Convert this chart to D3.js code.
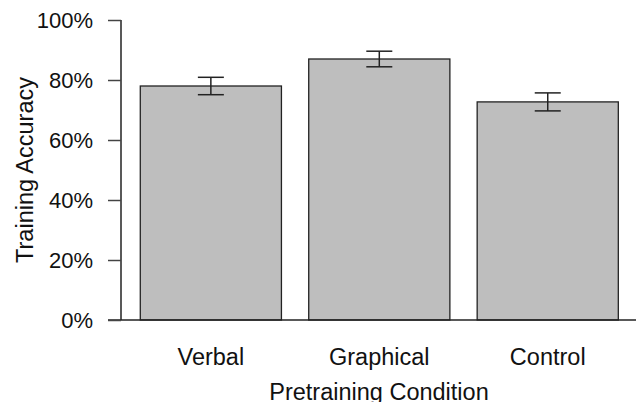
<!DOCTYPE html>
<html>
<head>
<meta charset="utf-8">
<script src="https://cdn.jsdelivr.net/npm/d3@7"></script>
<style>
  body { margin: 0; background: #fff; }
  svg { display: block; font-family: "Liberation Sans", Arial, sans-serif; }
</style>
</head>
<body>
<div id="chart"></div>
<script>
// values
const categories = ['Verbal', 'Graphical', 'Control'];
const means = [0.78, 0.87, 0.727];
const errors = [0.029, 0.026, 0.03];
const yTicks = [0, 0.2, 0.4, 0.6, 0.8, 1.0];

const width = 636;
const height = 402;

const svg = d3.select('#chart')
  .append('svg')
  .attr('width', width)
  .attr('height', height);

const y = d3.scaleLinear().domain([0, 1]).range([320, 20]);
const x = d3.scaleBand()
  .domain(categories)
  .range([113, 645.6])
  .paddingInner(0.162)
  .paddingOuter(0.162);

// bars
svg.selectAll('.bar')
  .data(categories)
  .enter()
  .append('rect')
  .attr('class', 'bar')
  .attr('x', d => x(d))
  .attr('y', (d, i) => y(means[i]))
  .attr('width', x.bandwidth())
  .attr('height', (d, i) => y(0) - y(means[i]))
  .attr('fill', '#bebebe')
  .attr('stroke', '#222')
  .attr('stroke-width', 1.3);

// error bars
const capHalf = 13;
const err = svg.selectAll('.err')
  .data(categories)
  .enter()
  .append('g')
  .attr('class', 'err')
  .attr('stroke', '#222')
  .attr('stroke-width', 1.5);

err.append('line')
  .attr('x1', d => x(d) + x.bandwidth() / 2)
  .attr('x2', d => x(d) + x.bandwidth() / 2)
  .attr('y1', (d, i) => y(means[i] + errors[i]))
  .attr('y2', (d, i) => y(means[i] - errors[i]));
err.append('line')
  .attr('x1', d => x(d) + x.bandwidth() / 2 - capHalf)
  .attr('x2', d => x(d) + x.bandwidth() / 2 + capHalf)
  .attr('y1', (d, i) => y(means[i] + errors[i]))
  .attr('y2', (d, i) => y(means[i] + errors[i]));
err.append('line')
  .attr('x1', d => x(d) + x.bandwidth() / 2 - capHalf)
  .attr('x2', d => x(d) + x.bandwidth() / 2 + capHalf)
  .attr('y1', (d, i) => y(means[i] - errors[i]))
  .attr('y2', (d, i) => y(means[i] - errors[i]));

// baseline across the plot
svg.append('line')
  .attr('x1', 108).attr('x2', width)
  .attr('y1', y(0)).attr('y2', y(0))
  .attr('stroke', '#222')
  .attr('stroke-width', 1.5);

// y axis
const yAxis = d3.axisLeft(y)
  .tickValues(yTicks)
  .tickFormat(d3.format('.0%'))
  .tickSize(13)
  .tickPadding(15);

const yg = svg.append('g')
  .attr('transform', 'translate(121,0)')
  .call(yAxis);
yg.select('.domain')
  .attr('d', `M0,${y(0)}V${y(1)}`)
  .attr('stroke', '#222')
  .attr('stroke-width', 1.5);
yg.selectAll('.tick line').attr('stroke', '#444').attr('stroke-width', 1.5);
yg.selectAll('.tick text')
  .attr('fill', '#111')
  .style('font-size', '22px')
  .style('font-family', '"Liberation Sans", Arial, sans-serif')
  .attr('dy', '0.36em');

// x category labels
svg.selectAll('.xlab')
  .data(categories)
  .enter()
  .append('text')
  .attr('class', 'xlab')
  .attr('x', d => x(d) + x.bandwidth() / 2)
  .attr('y', 365)
  .attr('text-anchor', 'middle')
  .style('font-size', '23.5px')
  .attr('fill', '#111')
  .text(d => d);

// axis titles
svg.append('text')
  .attr('x', 379)
  .attr('y', 400)
  .attr('text-anchor', 'middle')
  .style('font-size', '23.5px')
  .attr('fill', '#111')
  .text('Pretraining Condition');

svg.append('text')
  .attr('transform', 'translate(33,170) rotate(-90)')
  .attr('text-anchor', 'middle')
  .style('font-size', '23.5px')
  .attr('fill', '#111')
  .text('Training Accuracy');
</script>
</body>
</html>
